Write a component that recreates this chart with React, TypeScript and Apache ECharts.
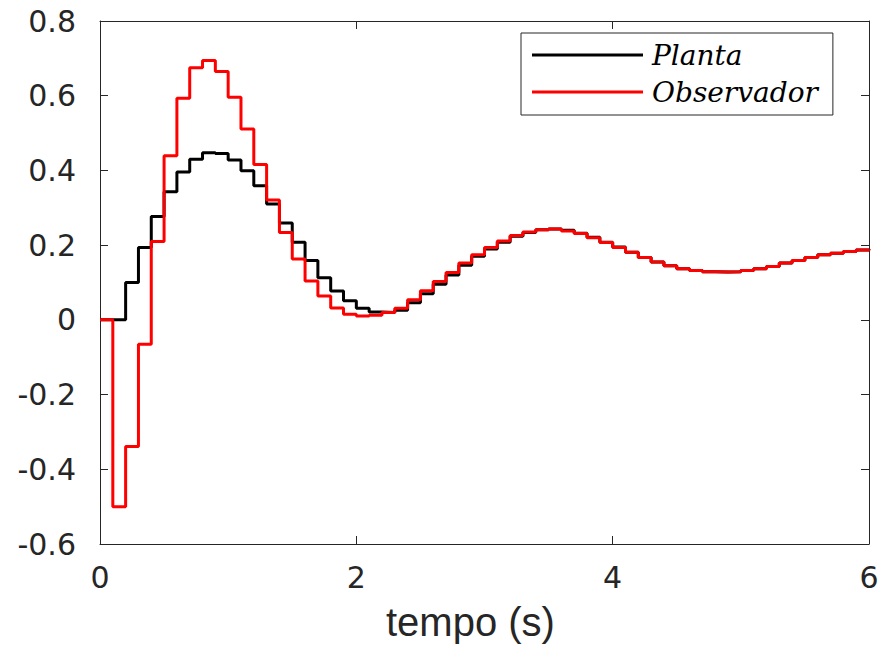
import React, { useEffect, useRef } from "react";
import * as echarts from "echarts";

const tempo = [
  0.0, 0.1, 0.2, 0.3, 0.4, 0.5, 0.6, 0.7, 0.8, 0.9,
  1.0, 1.1, 1.2, 1.3, 1.4, 1.5, 1.6, 1.7, 1.8, 1.9,
  2.0, 2.1, 2.2, 2.3, 2.4, 2.5, 2.6, 2.7, 2.8, 2.9,
  3.0, 3.1, 3.2, 3.3, 3.4, 3.5, 3.6, 3.7, 3.8, 3.9,
  4.0, 4.1, 4.2, 4.3, 4.4, 4.5, 4.6, 4.7, 4.8, 4.9,
  5.0, 5.1, 5.2, 5.3, 5.4, 5.5, 5.6, 5.7, 5.8, 5.9,
  6.0,
];

const planta = [
  0.0, 0.0, 0.100, 0.194, 0.277, 0.343, 0.396, 0.430, 0.447, 0.445,
  0.428, 0.399, 0.359, 0.310, 0.259, 0.208, 0.159, 0.113, 0.077, 0.051,
  0.031, 0.021, 0.020, 0.026, 0.046, 0.070, 0.095, 0.120, 0.146, 0.170,
  0.190, 0.208, 0.224, 0.234, 0.241, 0.243, 0.240, 0.232, 0.221, 0.208,
  0.195, 0.181, 0.167, 0.155, 0.145, 0.137, 0.132, 0.129, 0.128, 0.129,
  0.132, 0.137, 0.143, 0.152, 0.159, 0.167, 0.174, 0.178, 0.183, 0.187,
  0.189,
];

const observador = [
  0.0, -0.500, -0.339, -0.065, 0.210, 0.439, 0.593, 0.675, 0.694, 0.665,
  0.596, 0.511, 0.416, 0.321, 0.234, 0.163, 0.104, 0.064, 0.032, 0.015,
  0.010, 0.012, 0.020, 0.031, 0.054, 0.078, 0.103, 0.127, 0.152, 0.174,
  0.194, 0.211, 0.226, 0.235, 0.241, 0.243, 0.238, 0.231, 0.220, 0.207,
  0.194, 0.181, 0.167, 0.155, 0.145, 0.137, 0.132, 0.129, 0.128, 0.129,
  0.132, 0.137, 0.143, 0.152, 0.159, 0.167, 0.174, 0.178, 0.183, 0.187,
  0.189,
];

const seriesNames = ["Planta", "Observador"];
const xLabel = "tempo (s)";

const AXIS_COLOR = "#262626";

export default function App() {
  const ref = useRef<HTMLDivElement>(null);

  useEffect(() => {
    document.body.style.margin = "0";
    if (!ref.current) return;
    const chart = echarts.init(ref.current, undefined, { renderer: "svg" });

    const axisCommon = {
      axisLine: { show: true, onZero: false, lineStyle: { color: AXIS_COLOR, width: 1 } },
      axisTick: { show: true, inside: true, length: 8, lineStyle: { color: AXIS_COLOR, width: 1 } },
      splitLine: { show: false },
    };

    chart.setOption({
      animation: false,
      backgroundColor: "#ffffff",
      grid: { left: 100, right: 15, top: 21, bottom: 109, containLabel: false },
      legend: {
        data: seriesNames,
        orient: "vertical",
        left: 521,
        top: 33,
        padding: [7, 15, 8, 11],
        itemGap: 7,
        itemWidth: 111,
        itemHeight: 3,
        icon: "rect",
        borderColor: AXIS_COLOR,
        borderWidth: 1,
        backgroundColor: "#ffffff",
        textStyle: {
          fontFamily: "DejaVu Serif",
          fontStyle: "italic",
          fontSize: 28,
          color: "#000000",
          lineHeight: 30,
          padding: [0, 0, 0, 4],
        },
      },
      xAxis: [
        {
          type: "value",
          min: 0,
          max: 6,
          interval: 2,
          position: "bottom",
          ...axisCommon,
          axisLabel: {
            show: true,
            margin: 18,
            fontFamily: "DejaVu Sans",
            fontSize: 30,
            color: AXIS_COLOR,
          },
        },
        {
          type: "value",
          min: 0,
          max: 6,
          interval: 2,
          position: "top",
          ...axisCommon,
          axisLabel: { show: false },
        },
      ],
      yAxis: [
        {
          type: "value",
          min: -0.6,
          max: 0.8,
          interval: 0.2,
          position: "left",
          ...axisCommon,
          axisLabel: {
            show: true,
            margin: 24,
            fontFamily: "DejaVu Sans",
            fontSize: 30,
            color: AXIS_COLOR,
          },
        },
        {
          type: "value",
          min: -0.6,
          max: 0.8,
          interval: 0.2,
          position: "right",
          ...axisCommon,
          axisLabel: { show: false },
        },
      ],
      graphic: [
        {
          type: "text",
          left: 386,
          top: 602,
          style: {
            text: xLabel,
            fontFamily: "Liberation Sans",
            fontSize: 40,
            fill: AXIS_COLOR,
          },
        },
      ],
      series: [
        {
          name: seriesNames[0],
          type: "line",
          step: "end",
          xAxisIndex: 0,
          yAxisIndex: 0,
          showSymbol: false,
          symbol: "none",
          lineStyle: { color: "#000000", width: 3 },
          itemStyle: { color: "#000000" },
          data: tempo.map((t, i) => [t, planta[i]]),
        },
        {
          name: seriesNames[1],
          type: "line",
          step: "end",
          xAxisIndex: 0,
          yAxisIndex: 0,
          showSymbol: false,
          symbol: "none",
          lineStyle: { color: "#ff0000", width: 3 },
          itemStyle: { color: "#ff0000" },
          data: tempo.map((t, i) => [t, observador[i]]),
        },
      ],
    });

    return () => chart.dispose();
  }, []);

  return <div ref={ref} style={{ width: 884, height: 653 }} />;
}
